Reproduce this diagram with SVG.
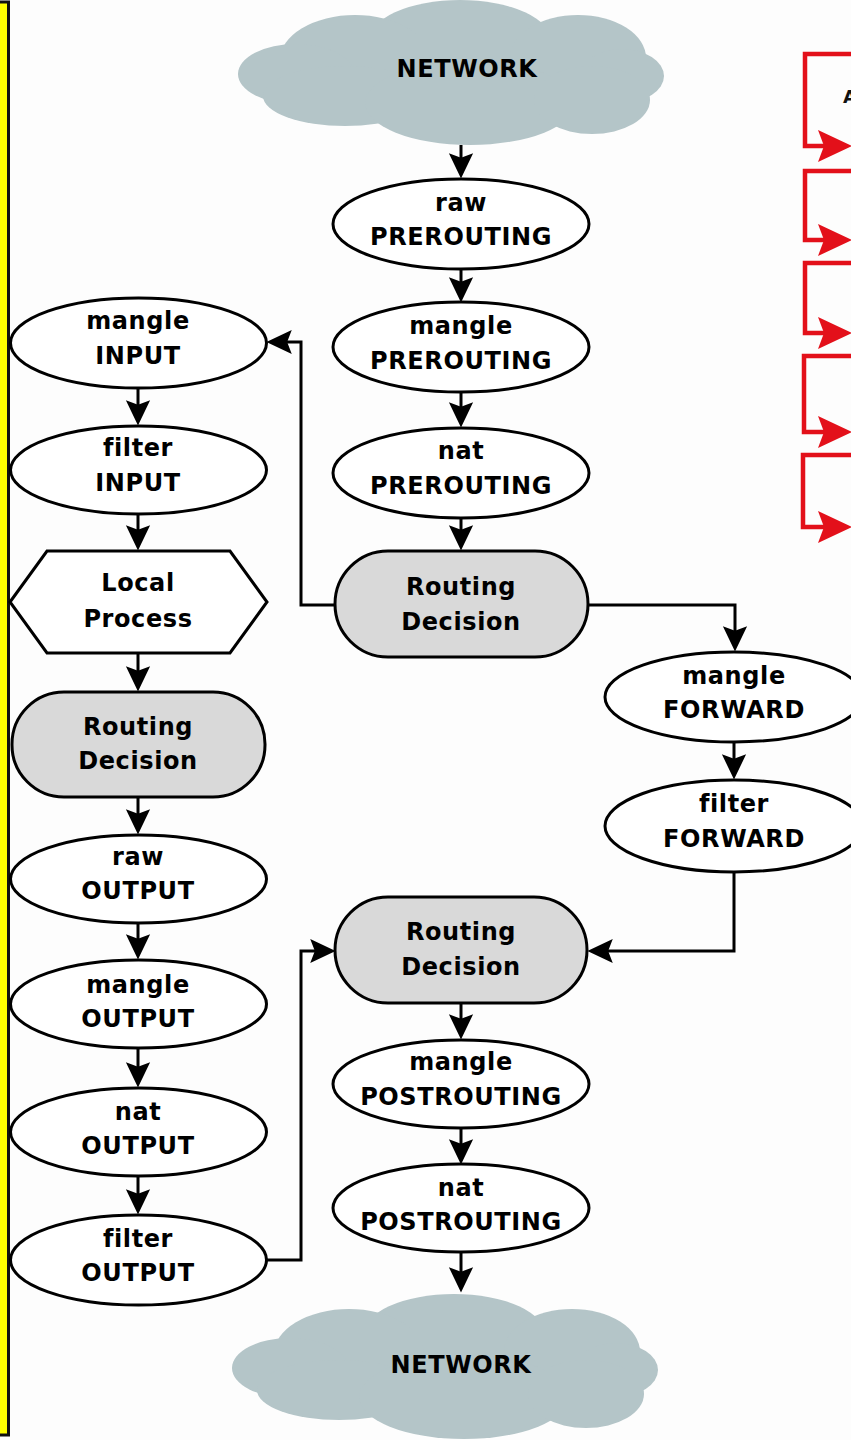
<svg xmlns="http://www.w3.org/2000/svg" width="851" height="1440" viewBox="0 0 851 1440">
<style>
.n{fill:#fff;stroke:#000;stroke-width:3}
.rd{fill:#d9d9d9;stroke:#000;stroke-width:3}
.t{font-family:"DejaVu Sans",sans-serif;font-weight:bold;font-size:24px;letter-spacing:0.6px;fill:#000;text-anchor:middle}
.c{fill:none;stroke:#000;stroke-width:3}
.r{fill:none;stroke:#e3101a;stroke-width:4.5}
.cl{fill:#b4c5c8}
</style>
<defs>
<marker id="ah" markerUnits="userSpaceOnUse" markerWidth="30" markerHeight="30" viewBox="-20 -12 26 24" refX="0" refY="0" orient="auto">
<path d="M4,0 L-18,-10.5 L-14,0 L-18,10.5 Z" fill="#000"/>
</marker>
<marker id="rh" markerUnits="userSpaceOnUse" markerWidth="50" markerHeight="40" viewBox="-30 -18 50 36" refX="0" refY="0" orient="auto">
<path d="M14,0 L-20,-16 L-14,0 L-20,16 Z" fill="#e3101a"/>
</marker>
<g id="cloudShape">
<ellipse cx="460" cy="42" rx="92" ry="42"/>
<ellipse cx="355" cy="60" rx="75" ry="45"/>
<ellipse cx="296" cy="74" rx="58" ry="30"/>
<ellipse cx="578" cy="58" rx="68" ry="43"/>
<ellipse cx="622" cy="76" rx="42" ry="27"/>
<ellipse cx="345" cy="96" rx="82" ry="30"/>
<ellipse cx="470" cy="103" rx="105" ry="42"/>
<ellipse cx="592" cy="100" rx="58" ry="34"/>
</g>
</defs>
<rect width="851" height="1440" fill="#fdfdfd"/>
<rect x="-10" y="2" width="18.5" height="1433" fill="#ffff00" stroke="#111" stroke-width="3"/>

<g id="legend">
<path class="r" d="M851,54 H805 V146 H838" marker-end="url(#rh)"/>
<path class="r" d="M851,171 H805 V240 H838" marker-end="url(#rh)"/>
<path class="r" d="M851,263 H805 V333 H838" marker-end="url(#rh)"/>
<path class="r" d="M851,356 H804 V432 H838" marker-end="url(#rh)"/>
<path class="r" d="M851,455 H803 V527 H838" marker-end="url(#rh)"/>
<text x="843" y="103" font-family="DejaVu Sans,sans-serif" font-weight="bold" font-size="18" fill="#111">A</text>
</g>

<g id="connectors">
<path class="c" d="M461,145 V174" marker-end="url(#ah)"/>
<path class="c" d="M461,269 V298" marker-end="url(#ah)"/>
<path class="c" d="M461,392 V423" marker-end="url(#ah)"/>
<path class="c" d="M461,518 V546" marker-end="url(#ah)"/>
<path class="c" d="M335,605 H301 V342 H271" marker-end="url(#ah)"/>
<path class="c" d="M588,605 H735 V647" marker-end="url(#ah)"/>
<path class="c" d="M734,742 V775" marker-end="url(#ah)"/>
<path class="c" d="M734,872 V951 H592" marker-end="url(#ah)"/>
<path class="c" d="M138,388 V421" marker-end="url(#ah)"/>
<path class="c" d="M138,514 V546" marker-end="url(#ah)"/>
<path class="c" d="M138,653 V687" marker-end="url(#ah)"/>
<path class="c" d="M138,797 V830" marker-end="url(#ah)"/>
<path class="c" d="M138,923 V955" marker-end="url(#ah)"/>
<path class="c" d="M138,1048 V1083" marker-end="url(#ah)"/>
<path class="c" d="M138,1176 V1210" marker-end="url(#ah)"/>
<path class="c" d="M267,1260 H301 V951 H331" marker-end="url(#ah)"/>
<path class="c" d="M461,1003 V1035" marker-end="url(#ah)"/>
<path class="c" d="M461,1128 V1160" marker-end="url(#ah)"/>
<path class="c" d="M461,1252 V1288" marker-end="url(#ah)"/>
</g>

<g id="network-top">
<use href="#cloudShape" class="cl"/>
<text class="t" x="467" y="77">NETWORK</text>
</g>
<g id="raw-prerouting">
<ellipse class="n" cx="461" cy="224" rx="128" ry="45"/>
<text class="t" x="461" y="211">raw</text><text class="t" x="461" y="245">PREROUTING</text>
</g>
<g id="mangle-prerouting">
<ellipse class="n" cx="461" cy="347" rx="128" ry="45"/>
<text class="t" x="461" y="334">mangle</text><text class="t" x="461" y="369">PREROUTING</text>
</g>
<g id="nat-prerouting">
<ellipse class="n" cx="461" cy="473" rx="128" ry="45"/>
<text class="t" x="461" y="459">nat</text><text class="t" x="461" y="494">PREROUTING</text>
</g>
<g id="routing-decision-1">
<rect class="rd" x="335" y="551" width="253" height="106" rx="53"/>
<text class="t" x="461" y="595">Routing</text><text class="t" x="461" y="630">Decision</text>
</g>
<g id="mangle-input">
<ellipse class="n" cx="138.5" cy="343" rx="128" ry="45"/>
<text class="t" x="138" y="329">mangle</text><text class="t" x="138" y="364">INPUT</text>
</g>
<g id="filter-input">
<ellipse class="n" cx="138.5" cy="470" rx="128" ry="44"/>
<text class="t" x="138" y="456">filter</text><text class="t" x="138" y="491">INPUT</text>
</g>
<g id="local-process">
<polygon class="n" points="10,602 47,551 230,551 267,602 230,653 47,653"/>
<text class="t" x="138" y="591">Local</text><text class="t" x="138" y="627">Process</text>
</g>
<g id="routing-decision-2">
<rect class="rd" x="12" y="692" width="253" height="105" rx="52"/>
<text class="t" x="138" y="735">Routing</text><text class="t" x="138" y="769">Decision</text>
</g>
<g id="raw-output">
<ellipse class="n" cx="138.5" cy="879" rx="128" ry="44"/>
<text class="t" x="138" y="865">raw</text><text class="t" x="138" y="899">OUTPUT</text>
</g>
<g id="mangle-output">
<ellipse class="n" cx="138.5" cy="1004" rx="128" ry="44"/>
<text class="t" x="138" y="993">mangle</text><text class="t" x="138" y="1027">OUTPUT</text>
</g>
<g id="nat-output">
<ellipse class="n" cx="138.5" cy="1132" rx="128" ry="44"/>
<text class="t" x="138" y="1120">nat</text><text class="t" x="138" y="1154">OUTPUT</text>
</g>
<g id="filter-output">
<ellipse class="n" cx="138.5" cy="1260" rx="128" ry="45"/>
<text class="t" x="138" y="1247">filter</text><text class="t" x="138" y="1281">OUTPUT</text>
</g>
<g id="mangle-forward">
<ellipse class="n" cx="734" cy="697" rx="129" ry="45"/>
<text class="t" x="734" y="684">mangle</text><text class="t" x="734" y="718">FORWARD</text>
</g>
<g id="filter-forward">
<ellipse class="n" cx="734" cy="826" rx="129" ry="46"/>
<text class="t" x="734" y="812">filter</text><text class="t" x="734" y="847">FORWARD</text>
</g>
<g id="routing-decision-3">
<rect class="rd" x="335" y="897" width="252" height="106" rx="53"/>
<text class="t" x="461" y="940">Routing</text><text class="t" x="461" y="975">Decision</text>
</g>
<g id="mangle-postrouting">
<ellipse class="n" cx="461" cy="1084" rx="128" ry="44"/>
<text class="t" x="461" y="1070">mangle</text><text class="t" x="461" y="1105">POSTROUTING</text>
</g>
<g id="nat-postrouting">
<ellipse class="n" cx="461" cy="1208" rx="128" ry="44"/>
<text class="t" x="461" y="1196">nat</text><text class="t" x="461" y="1230">POSTROUTING</text>
</g>
<g id="network-bottom">
<use href="#cloudShape" class="cl" transform="translate(-6,1294)"/>
<text class="t" x="461" y="1373">NETWORK</text>
</g>
</svg>
